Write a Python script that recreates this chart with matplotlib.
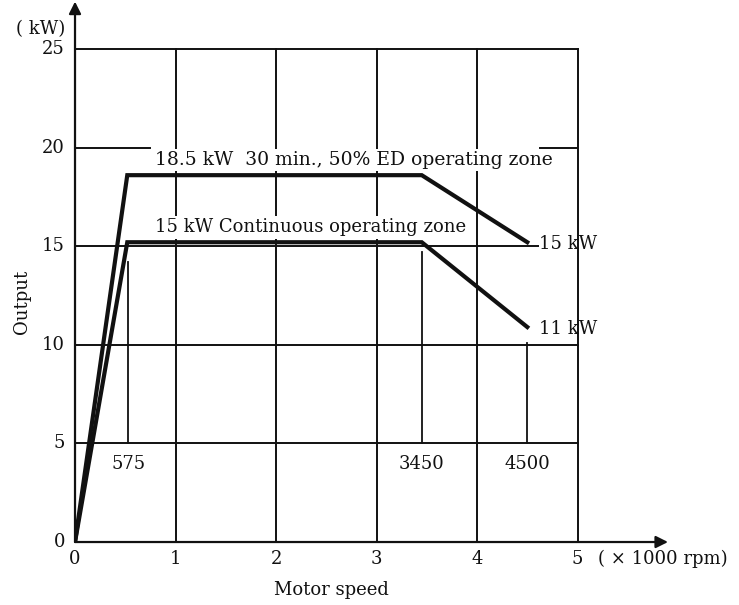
import matplotlib
matplotlib.use('Agg')

import matplotlib.pyplot as plt

# Output curves (speed in 1000 rpm, output in kW)
speed_30min = [0, 0.52, 3.45, 4.5]
output_30min = [0, 18.6, 18.6, 15.2]
speed_cont = [0, 0.52, 3.45, 4.5]
output_cont = [0, 15.2, 15.2, 10.9]

# Speed markers with their labels and top ends
marker_speed = [0.53, 3.45, 4.5]
marker_top = [14.2, 14.7, 10.1]
marker_labels = ['575', '3450', '4500']

x_ticks = [0, 1, 2, 3, 4, 5]
y_ticks = [0, 5, 10, 15, 20, 25]

plt.rcParams['font.family'] = ['DejaVu Serif']
ink = '#111111'

fig = plt.figure(figsize=(7.39, 6.05), dpi=100)
ax = fig.add_axes([0.1015, 0.1041, 0.680, 0.815])
ax.set_xlim(0, 5)
ax.set_ylim(0, 25)
for s in ax.spines.values():
    s.set_visible(False)
ax.set_xticks([])
ax.set_yticks([])

# grid
lw = 1.4
for x in x_ticks[1:]:
    ax.axvline(x, color=ink, lw=lw, zorder=1 if x < 5 else 6, clip_on=False)
for y in [5, 10, 15, 25]:
    ax.axhline(y, color=ink, lw=lw, zorder=1, clip_on=False)
ax.axhline(20, 0, 0.15, color=ink, lw=lw, zorder=1)
ax.axhline(20, 0.925, 1, color=ink, lw=lw, zorder=4)

# axes with arrows
ax.annotate('', xy=(0, 27.4), xytext=(0, 0), xycoords='data',
            arrowprops=dict(arrowstyle='-|>', color=ink, lw=1.6,
                            mutation_scale=18, shrinkA=0, shrinkB=0),
            annotation_clip=False, zorder=7)
ax.annotate('', xy=(5.9, 0), xytext=(0, 0), xycoords='data',
            arrowprops=dict(arrowstyle='-|>', color=ink, lw=1.6,
                            mutation_scale=18, shrinkA=0, shrinkB=0),
            annotation_clip=False, zorder=7)

# curves
ax.plot(speed_30min, output_30min, color=ink, lw=3, zorder=5,
        solid_joinstyle='miter')
ax.plot(speed_cont, output_cont, color=ink, lw=3, zorder=5,
        solid_joinstyle='miter')

fs = 13

# speed markers
for xs, top, lab in zip(marker_speed, marker_top, marker_labels):
    ax.plot([xs, xs], [5, top], color=ink, lw=1.3, zorder=1)
    ax.text(xs, 4.4, lab, ha='center', va='top', fontsize=fs, color=ink)

box = dict(facecolor='white', edgecolor='none', pad=1.5)
ax.text(0.8, 19.35, '18.5 kW  30 min., 50% ED operating zone', ha='left',
        va='center', fontsize=13.5, color=ink, bbox=box, zorder=3)
ax.text(0.8, 15.95, '15 kW Continuous operating zone', ha='left',
        va='center', fontsize=fs, color=ink, bbox=box, zorder=3)
ax.text(4.62, 15.1, '15 kW', ha='left', va='center', fontsize=fs,
        color=ink, bbox=dict(facecolor='white', edgecolor='none', pad=0.5),
        zorder=3)
ax.text(4.62, 10.8, '11 kW', ha='left', va='center', fontsize=fs,
        color=ink, zorder=3)

# tick labels
for x in x_ticks:
    ax.text(x, -0.4, str(x), ha='center', va='top', fontsize=fs, color=ink)
for y in y_ticks:
    ax.text(-0.1, y, str(y), ha='right', va='center', fontsize=fs, color=ink)

ax.text(5.2, -0.4, '( \u00d7 1000 rpm)', ha='left', va='top', fontsize=fs,
        color=ink)
ax.text(-0.1, 26.0, '( kW)', ha='right', va='center', fontsize=fs, color=ink)
ax.text(2.55, -2.0, 'Motor speed', ha='center', va='top', fontsize=fs,
        color=ink)
ax.text(-0.53, 12.2, 'Output', ha='center', va='center', rotation=90,
        fontsize=fs, color=ink)

fig.savefig('out.png', dpi=100)
